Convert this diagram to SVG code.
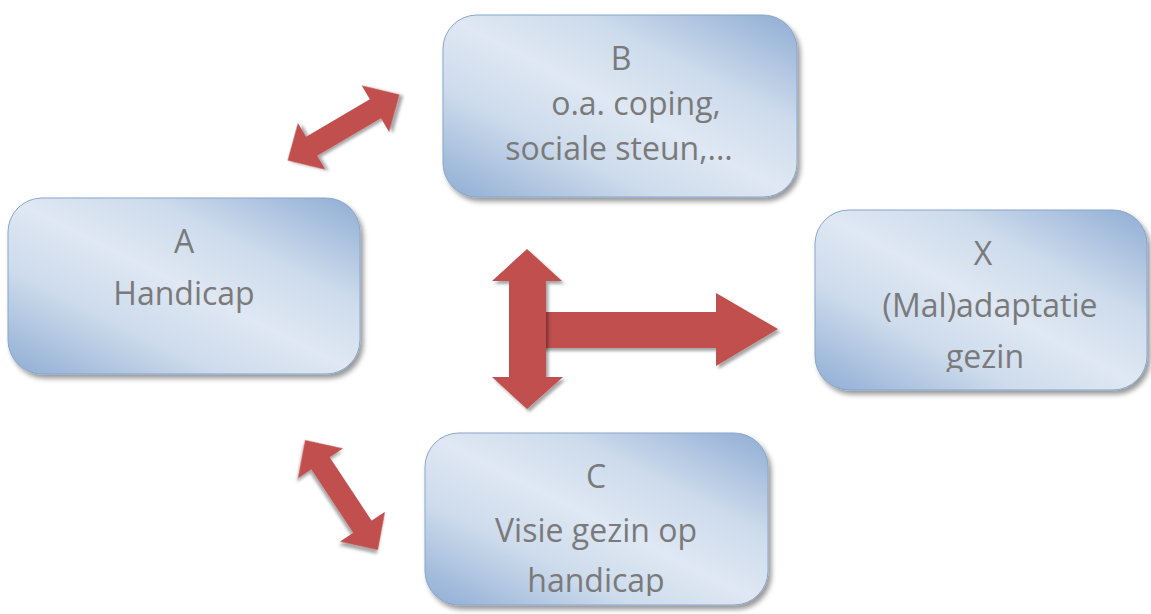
<svg xmlns="http://www.w3.org/2000/svg" width="1151" height="614" viewBox="0 0 1151 614">
<defs>
<linearGradient id="boxg" x1="0" y1="1" x2="1" y2="0">
<stop offset="0" stop-color="#8fadd4"/>
<stop offset="0.3" stop-color="#cddbec"/>
<stop offset="0.5" stop-color="#dfe8f3"/>
<stop offset="0.7" stop-color="#cddbec"/>
<stop offset="1" stop-color="#8fadd4"/>
</linearGradient>
<filter id="sh" x="-10%" y="-10%" width="125%" height="130%">
<feDropShadow dx="3" dy="4" stdDeviation="2.5" flood-color="#000" flood-opacity="0.4"/>
</filter>
<filter id="ash" x="-20%" y="-20%" width="150%" height="150%">
<feDropShadow dx="2.5" dy="3" stdDeviation="1.5" flood-color="#000" flood-opacity="0.35"/>
</filter>
<clipPath id="clipX"><rect x="815" y="210" width="332" height="162"/></clipPath>
<clipPath id="clipC"><rect x="425" y="433" width="343" height="163"/></clipPath>
</defs>
<style>
.box{fill:url(#boxg);stroke:#88a5cc;stroke-width:1;filter:url(#sh)}
.t{font-family:"Open Sans","Noto Sans",sans-serif;font-size:32px;font-weight:500;fill:#7a7a7a;text-anchor:middle}
.arr{fill:#c0504d;filter:url(#ash)}
</style>
<g id="connectors">
<path class="arr" transform="translate(343.5,127.5) rotate(-30.5)" d="M-65,0 L-37,-27 L-37,-11 L37,-11 L37,-27 L65,0 L37,27 L37,11 L-37,11 L-37,27 Z"/>
<path class="arr" transform="translate(341.5,495) rotate(56.5)" d="M-66,0 L-38,-27 L-38,-11 L38,-11 L38,-27 L66,0 L38,27 L38,11 L-38,11 L-38,27 Z"/>
<path class="arr" d="M530,312 L716,312 L716,293 L778,329 L716,366 L716,348 L530,348 Z"/>
<path class="arr" d="M527,249 L562,281 L546,281 L546,377 L563,377 L527,409 L492,377 L509,377 L509,281 L492,281 Z"/>
</g>
<g id="nodeA">
<rect class="box" x="8" y="198" width="352" height="176" rx="34"/>
<text class="t" x="184" y="253">A</text>
<text class="t" x="184" y="305">Handicap</text>
</g>
<g id="nodeB">
<rect class="box" x="443" y="15" width="354" height="182" rx="34"/>
<text class="t" x="621" y="70">B</text>
<text class="t" x="636" y="115">o.a. coping,</text>
<text class="t" x="619" y="160">sociale steun,...</text>
</g>
<g id="nodeX">
<rect class="box" x="815" y="210" width="332" height="180" rx="34"/>
<g clip-path="url(#clipX)">
<text class="t" x="983" y="265">X</text>
<text class="t" x="990" y="317">(Mal)adaptatie</text>
<text class="t" x="985" y="368">gezin</text>
</g>
</g>
<g id="nodeC">
<rect class="box" x="425" y="433" width="343" height="172" rx="34"/>
<g clip-path="url(#clipC)">
<text class="t" x="596" y="488">C</text>
<text class="t" x="596" y="542">Visie gezin op</text>
<text class="t" x="596" y="592">handicap</text>
</g>
</g>
</svg>
